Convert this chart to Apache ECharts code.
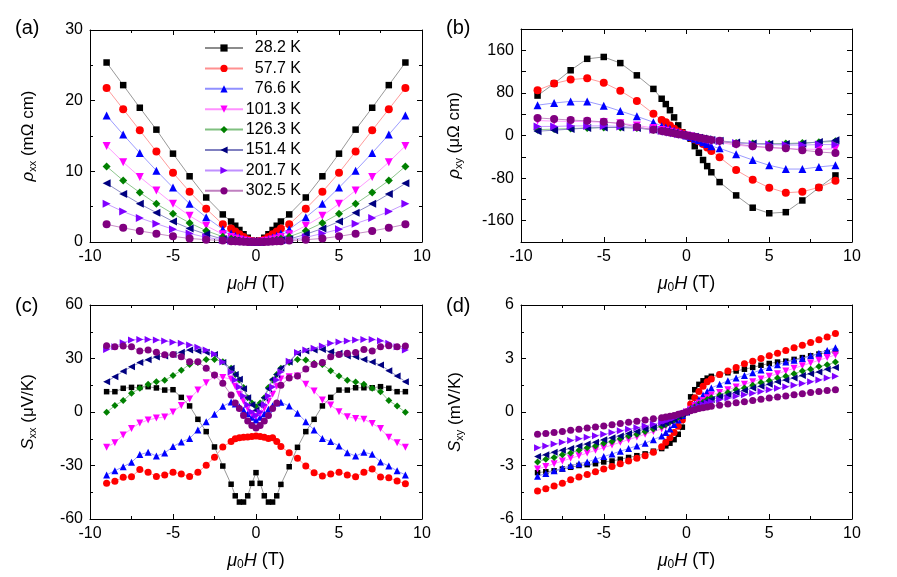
<!DOCTYPE html>
<html>
<head>
<meta charset="utf-8">
<script src="https://cdn.jsdelivr.net/npm/echarts@6/dist/echarts.min.js"></script>
<style>
    html, body { margin: 0; background: #fff; }
    #main { width: 897px; height: 577px; }
</style>
</head>
<body>
<div id="main"></div>
<script type="text/javascript">
    // field values (T) for panels a, b
    var fieldAB = [-9, -8, -7, -6, -5, -4, -3, -2, -1.5, -1.25, -1, -0.75, -0.5, -0.25, 0,
        0.25, 0.5, 0.75, 1, 1.25, 1.5, 2, 3, 4, 5, 6, 7, 8, 9];
    // field values (T) for panels c, d
    var fieldCD = [-9, -8.5, -8, -7.5, -7, -6.5, -6, -5.5, -5, -4.5, -4, -3.5, -3, -2.5, -2, -1.5,
        -1.25, -1, -0.75, -0.5, -0.25, 0, 0.25, 0.5, 0.75, 1, 1.25,
        1.5, 2, 2.5, 3, 3.5, 4, 4.5, 5, 5.5, 6, 6.5, 7, 7.5, 8, 8.5, 9];

    var temps = ['28.2 K', '57.7 K', '76.6 K', '101.3 K', '126.3 K', '151.4 K', '201.7 K', '302.5 K'];

    // (a) rho_xx, mOhm cm
    var rhoXX_282 = [25.4, 22.2, 19.0, 15.9, 12.5, 9.3, 6.3, 3.9, 2.9, 2.3, 1.7, 1.1, 0.6, 0.2, 0.05, 0.2, 0.6, 1.1, 1.7, 2.3, 2.9, 3.9, 6.3, 9.3, 12.5, 15.9, 19.0, 22.2, 25.4];
    var rhoXX_577 = [21.8, 18.8, 15.8, 12.8, 9.8, 7.1, 4.7, 2.5, 1.9, 1.5, 1.1, 0.7, 0.35, 0.1, 0.02, 0.1, 0.35, 0.7, 1.1, 1.5, 1.9, 2.5, 4.7, 7.1, 9.8, 12.8, 15.8, 18.8, 21.8];
    var rhoXX_766 = [17.9, 15.2, 12.6, 10.1, 7.7, 5.4, 3.5, 1.8, 1.2, 0.9, 0.65, 0.4, 0.2, 0.05, 0.01, 0.05, 0.2, 0.4, 0.65, 0.9, 1.2, 1.8, 3.5, 5.4, 7.7, 10.1, 12.6, 15.2, 17.9];
    var rhoXX_1013 = [13.6, 11.3, 9.2, 7.3, 5.4, 3.7, 2.3, 1.1, 0.7, 0.5, 0.35, 0.2, 0.1, 0.03, 0, 0.03, 0.1, 0.2, 0.35, 0.5, 0.7, 1.1, 2.3, 3.7, 5.4, 7.3, 9.2, 11.3, 13.6];
    var rhoXX_1263 = [10.7, 8.7, 7.0, 5.4, 4.0, 2.7, 1.6, 0.75, 0.45, 0.32, 0.22, 0.12, 0.06, 0.02, 0, 0.02, 0.06, 0.12, 0.22, 0.32, 0.45, 0.75, 1.6, 2.7, 4.0, 5.4, 7.0, 8.7, 10.7];
    var rhoXX_1514 = [8.3, 6.8, 5.4, 4.15, 2.9, 1.9, 1.1, 0.4, 0.25, 0.18, 0.12, 0.07, 0.03, 0.01, 0, 0.01, 0.03, 0.07, 0.12, 0.18, 0.25, 0.4, 1.1, 1.9, 2.9, 4.15, 5.4, 6.8, 8.3];
    var rhoXX_2017 = [5.4, 4.3, 3.4, 2.6, 1.8, 1.2, 0.66, 0.3, 0.17, 0.12, 0.08, 0.05, 0.02, 0.01, 0, 0.01, 0.02, 0.05, 0.08, 0.12, 0.17, 0.3, 0.66, 1.2, 1.8, 2.6, 3.4, 4.3, 5.4];
    var rhoXX_3025 = [2.5, 2.0, 1.56, 1.18, 0.8, 0.5, 0.33, 0.2, 0.12, 0.09, 0.06, 0.03, 0.015, 0.005, 0, 0.005, 0.015, 0.03, 0.06, 0.09, 0.12, 0.2, 0.33, 0.5, 0.8, 1.18, 1.56, 2.0, 2.5];

    // (b) rho_xy, uOhm cm
    var rhoXY_282 = [75, 97.5, 122.5, 144, 147.5, 136, 113, 87.5, 69, 59, 47.5, 34, 19, 6, 0, -6, -20, -32.5, -46, -57.5, -69, -87.5, -112.5, -135.6, -146, -144, -122, -98, -75];
    var rhoXY_577 = [85, 97.5, 105, 107.5, 99, 84, 65, 41, 29, 25, 19, 12.5, 7.5, 4, 0, -4, -7.5, -11, -16, -22.5, -29, -41, -65, -83, -98, -107.5, -105.6, -97.5, -85];
    var rhoXY_766 = [57, 61, 64, 64, 56, 46, 36, 25, 17.5, 15, 12.5, 9, 6, 3, 0, -3, -6, -9, -12.5, -16, -20, -24, -35, -46, -56, -63, -63, -59, -56];
    var rhoXY_1013 = [28, 27, 26.5, 26, 25, 23, 19, 14, 10.5, 9, 7, 5, 3.5, 1.5, 0, -1.5, -3.5, -5, -7, -9, -10.5, -13, -18, -21, -23, -24.5, -25.5, -26, -25];
    var rhoXY_1263 = [11, 12, 13, 14, 15, 15, 14, 11, 8.5, 7, 5.5, 4, 2.5, 1.2, 0, -1.2, -2.5, -4, -5.5, -7, -8.5, -11, -14, -15, -15.5, -15, -14, -12.5, -11];
    var rhoXY_1514 = [8, 10, 12, 14, 15, 15, 14, 11, 8.5, 7, 5.5, 4, 2.5, 1.2, 0, -1.2, -2.5, -4, -5.5, -7, -8.5, -10, -13, -15, -16, -16, -15, -12, -9];
    var rhoXY_2017 = [17, 17, 18, 18, 18, 17, 15, 11, 8.5, 7, 5.5, 4, 2.5, 1.2, 0, -1.2, -2.5, -4, -5.5, -7, -8.5, -11, -14, -16, -17, -18, -18, -17, -17];
    var rhoXY_3025 = [33, 31, 29, 27.5, 25.6, 22.5, 16, 11, 8.5, 7, 5.5, 4, 2.5, 1.2, 0, -1.2, -2.5, -4, -5.5, -7, -8.5, -10, -16, -20, -22.5, -24, -27.5, -31, -33];

    // (c) S_xx, uV/K
    var sXX_282 = [11.4, 11.4, 13.3, 13.8, 13.8, 14.2, 13.5, 12.3, 12.5, 8.2, 3.4, -4.1, -11, -19.6, -30.3, -40.5,
        -47, -50.5, -50.5, -47, -40, -34, -40, -47, -50.5, -50.5, -47,
        -40.6, -30.7, -19.8, -11, -4.1, 3.4, 8.2, 12.3, 12.3, 13.6, 13.6, 13.6, 14.2, 13.3, 11.4, 11.4];
    var sXX_577 = [-40, -38.9, -36.6, -36.3, -32.3, -33.8, -36.1, -35.3, -33.8, -34.8, -36.1, -33.8, -29.9, -25.4, -19.6, -16.6,
        -15, -14.5, -14.2, -14, -13.8, -13.4, -13.8, -14.2, -14.8, -14.5, -16.5,
        -19.4, -22.8, -26, -30.3, -34, -35.9, -34.8, -33.8, -35.3, -36.3, -33.8, -32, -36.4, -36.8, -38.7, -40.2];
    var sXX_766 = [-35.3, -32.9, -30.7, -28.2, -23.9, -22.6, -24.7, -23, -19.4, -16.8, -14.8, -10.1, -5.4, -1.3, 3.2, 5.6,
        4.5, 3, 1, -1, -3, -4.5, -3, -1, 1.5, 3.5, 5,
        5.4, 3.4, -0.7, -5.4, -10.1, -14.8, -16.6, -19, -22.8, -24.7, -22.6, -23.7, -28, -30.3, -33, -35.3];
    var sXX_1013 = [-19.8, -17.2, -12.9, -9.3, -6.2, -4.5, -3.4, -2.8, 0, 3.7, 7.3, 12.3, 16.4, 20, 19.4, 18.5,
        14.5, 10, 6, 2, -1, -2.5, -1, 2, 6, 10, 14.5,
        18.5, 19.8, 20.2, 15.5, 11.8, 6.7, 3.9, 0.2, -2.6, -3.6, -4.1, -6.4, -9.3, -14.2, -17.2, -19.8];
    var sXX_1263 = [-0.2, 3.6, 6.4, 10.5, 13.3, 15.5, 17, 17.8, 20.4, 23.4, 26.7, 27.7, 29.5, 29.5, 28.2, 24.5,
        21, 17.9, 13.8, 8, 5, 3, 5, 8, 13.8, 17.9, 21,
        24.5, 27.7, 29.5, 29.2, 27.3, 26.7, 23.2, 20.2, 17.8, 16.8, 15.5, 13.3, 11.4, 6.4, 3.4, -0.2];
    var sXX_1514 = [17, 19.8, 22.8, 25.4, 27.7, 29.3, 30.8, 31.4, 32.3, 33.5, 34.8, 34.2, 33.5, 32.3, 27.7, 24.5,
        21, 18.3, 13, 8, 4, 1, 4, 8, 13, 18.3, 21,
        24.5, 28, 32.9, 34.2, 34.8, 35, 33.8, 32.9, 31.4, 31, 29.5, 28, 26.4, 23.2, 20.2, 17];
    var sXX_2017 = [35.1, 36.6, 38.9, 40.4, 40.7, 40.7, 40.4, 39.8, 39.1, 38.5, 37.6, 36.3, 34.8, 32.5, 28, 22.5,
        18, 14, 9, 4, 0, -2, 0, 4, 9, 14, 18,
        22.5, 28.5, 33.3, 34.8, 35.7, 37, 38.5, 39.2, 39.8, 40.4, 40.7, 40.7, 40, 38.5, 36.6, 34.8];
    var sXX_3025 = [37.2, 36.6, 37, 36.6, 34.2, 34.8, 33.5, 32.1, 32.3, 31, 28.2, 28.2, 24.5, 20.7, 16.1, 9.5,
        5, 2, -2, -5, -7.5, -9, -7.5, -5, -2, 2, 5,
        15, 19, 20.2, 24.1, 26.7, 27.7, 31, 32.3, 32.9, 33.3, 35.1, 34.2, 36.6, 37.2, 36.6, 37];

    // (d) S_xy, mV/K
    var sXY_282 = [-3.4, -3.35, -3.3, -3.2, -3.1, -3.0, -2.95, -2.9, -2.8, -2.75, -2.65, -2.55, -2.45, -2.35, -2.2, -2.05,
        -1.9, -1.75, -1.55, -1.25, -0.85, 0, 0.85, 1.25, 1.55, 1.75, 1.9,
        2.0, 2.1, 2.2, 2.3, 2.4, 2.5, 2.62, 2.72, 2.8, 2.85, 2.95, 3.05, 3.15, 3.25, 3.32, 3.4];
    var sXY_577 = [-4.43, -4.3, -4.15, -4.0, -3.8, -3.65, -3.5, -3.35, -3.2, -3.05, -2.9, -2.75, -2.6, -2.45, -2.25, -1.95,
        -1.7, -1.45, -1.15, -0.8, -0.45, 0, 0.45, 0.8, 1.15, 1.45, 1.7,
        1.85, 2.1, 2.3, 2.5, 2.7, 2.85, 3.0, 3.15, 3.3, 3.45, 3.6, 3.75, 3.9, 4.05, 4.2, 4.4];
    var sXY_766 = [-3.6, -3.45, -3.3, -3.15, -3.0, -2.9, -2.8, -2.65, -2.5, -2.35, -2.2, -2.05, -1.9, -1.75, -1.55, -1.35,
        -1.15, -0.95, -0.7, -0.45, -0.2, 0, 0.2, 0.45, 0.7, 0.95, 1.15,
        1.35, 1.55, 1.75, 1.9, 2.05, 2.2, 2.35, 2.5, 2.65, 2.8, 2.9, 3.0, 3.15, 3.3, 3.45, 3.6];
    var sXY_1013 = [-3.2, -3.05, -2.9, -2.75, -2.6, -2.45, -2.3, -2.15, -2.0, -1.85, -1.7, -1.55, -1.4, -1.25, -1.1, -0.95,
        -0.8, -0.65, -0.5, -0.35, -0.15, 0, 0.15, 0.35, 0.5, 0.65, 0.8,
        0.95, 1.1, 1.25, 1.4, 1.55, 1.7, 1.85, 2.0, 2.15, 2.3, 2.45, 2.6, 2.75, 2.9, 3.05, 3.2];
    var sXY_1263 = [-2.8, -2.65, -2.55, -2.4, -2.3, -2.15, -2.0, -1.9, -1.75, -1.65, -1.5, -1.35, -1.25, -1.1, -0.95, -0.8,
        -0.7, -0.55, -0.45, -0.3, -0.15, 0, 0.15, 0.3, 0.45, 0.55, 0.7,
        0.8, 0.95, 1.1, 1.25, 1.35, 1.5, 1.65, 1.75, 1.9, 2.0, 2.15, 2.3, 2.4, 2.55, 2.65, 2.8];
    var sXY_1514 = [-2.5, -2.4, -2.25, -2.15, -2.05, -1.9, -1.8, -1.7, -1.55, -1.45, -1.35, -1.2, -1.1, -0.95, -0.85, -0.7,
        -0.6, -0.5, -0.4, -0.25, -0.12, 0, 0.12, 0.25, 0.4, 0.5, 0.6,
        0.7, 0.85, 0.95, 1.1, 1.2, 1.35, 1.45, 1.55, 1.7, 1.8, 1.9, 2.05, 2.15, 2.25, 2.4, 2.5];
    var sXY_2017 = [-2.0, -1.9, -1.8, -1.7, -1.6, -1.5, -1.42, -1.33, -1.25, -1.15, -1.05, -0.97, -0.88, -0.78, -0.68, -0.58,
        -0.5, -0.42, -0.33, -0.22, -0.1, 0, 0.1, 0.22, 0.33, 0.42, 0.5,
        0.58, 0.68, 0.78, 0.88, 0.97, 1.05, 1.15, 1.25, 1.33, 1.42, 1.5, 1.6, 1.7, 1.8, 1.9, 2.0];
    var sXY_3025 = [-1.25, -1.2, -1.15, -1.1, -1.03, -0.97, -0.9, -0.84, -0.78, -0.72, -0.65, -0.58, -0.52, -0.45, -0.38, -0.32,
        -0.28, -0.24, -0.19, -0.13, -0.07, 0, 0.07, 0.13, 0.19, 0.24, 0.28,
        0.32, 0.38, 0.45, 0.52, 0.58, 0.65, 0.72, 0.78, 0.84, 0.9, 0.97, 1.03, 1.1, 1.15, 1.2, 1.25];

    var panelData = [
        [rhoXX_282, rhoXX_577, rhoXX_766, rhoXX_1013, rhoXX_1263, rhoXX_1514, rhoXX_2017, rhoXX_3025],
        [rhoXY_282, rhoXY_577, rhoXY_766, rhoXY_1013, rhoXY_1263, rhoXY_1514, rhoXY_2017, rhoXY_3025],
        [sXX_282, sXX_577, sXX_766, sXX_1013, sXX_1263, sXX_1514, sXX_2017, sXX_3025],
        [sXY_282, sXY_577, sXY_766, sXY_1013, sXY_1263, sXY_1514, sXY_2017, sXY_3025]
    ];
    var panelField = [fieldAB, fieldAB, fieldCD, fieldCD];

    var colors = ['#000000', '#ff0000', '#0000ff', '#ff00ff', '#008000', '#000080', '#8000ff', '#800080'];
    var lineColors = ['#8c8c8c', '#ff9090', '#9090ff', '#ff90ff', '#80c080', '#8080c0', '#c090ff', '#c080c0'];
    var symbols = ['rect', 'circle', 'triangle', 'triangle', 'diamond', 'triangle', 'triangle', 'circle'];
    var rotations = [0, 0, 0, 180, 0, 90, -90, 0];

    var font = 'Liberation Sans, Arial, sans-serif';

    var grids = [
        {left: 90, top: 30, width: 332, height: 212},
        {left: 521, top: 29, width: 331, height: 213},
        {left: 90, top: 305, width: 332, height: 214},
        {left: 521, top: 305, width: 331, height: 214}
    ];

    var yNames = [
        '{i|ρ}{s|xx} (mΩ cm)',
        '{i|ρ}{s|xy} (μΩ cm)',
        '{i|S}{s|xx} (μV/K)',
        '{i|S}{s|xy} (mV/K)'
    ];
    var yRange = [
        {min: 0, max: 30, interval: 10, minor: 2},
        {min: -200, max: 200, interval: 40, minor: 0},
        {min: -60, max: 60, interval: 30, minor: 2},
        {min: -6, max: 6, interval: 3, minor: 2}
    ];
    var yGap = [52, 57, 52, 56];

    function axisBase(gridIndex, pos, r, showLabel) {
        var a = {
            type: 'value',
            gridIndex: gridIndex,
            position: pos,
            min: r.min,
            max: r.max,
            interval: r.interval,
            splitLine: {show: false},
            axisLine: {show: true, onZero: false, lineStyle: {color: '#000', width: 1}},
            axisTick: {show: true, inside: true, length: 5, lineStyle: {color: '#000'}},
            minorTick: {show: r.minor > 0, splitNumber: r.minor, length: 3, lineStyle: {color: '#000'}},
            axisLabel: {show: showLabel, color: '#000', fontSize: 16, fontFamily: font, margin: 7}
        };
        return a;
    }

    var xAxes = [], yAxes = [], series = [];
    for (var p = 0; p < 4; p++) {
        var xr = {min: -10, max: 10, interval: 5, minor: 2};
        var xb = axisBase(p, 'bottom', xr, true);
        xb.name = '{i|μ}{s|0}{i|H} (T)';
        xb.nameLocation = 'middle';
        xb.nameGap = 31;
        xb.nameTextStyle = {
            color: '#000', fontSize: 18, fontFamily: font,
            rich: {i: {fontStyle: 'italic', fontSize: 18, fontFamily: font}, s: {fontSize: 12, fontFamily: font, padding: [9, 0, 0, 0]}}
        };
        xAxes.push(xb);
        xAxes.push(axisBase(p, 'top', xr, false));

        var yl = axisBase(p, 'left', yRange[p], true);
        if (p === 1) {
            yl.axisLabel.formatter = function (v) { return v % 80 === 0 ? String(v) : ''; };
        }
        yl.name = yNames[p];
        yl.nameLocation = 'middle';
        yl.nameRotate = 90;
        yl.nameGap = yGap[p];
        yl.nameTextStyle = {
            color: '#000', fontSize: 17, fontFamily: font,
            rich: {i: {fontStyle: 'italic', fontSize: 17, fontFamily: font}, s: {fontSize: 11, fontFamily: font, padding: [9, 0, 0, 0]}}
        };
        yAxes.push(yl);
        yAxes.push(axisBase(p, 'right', yRange[p], false));

        for (var k = 0; k < 8; k++) {
            var pts = [];
            for (var i = 0; i < panelField[p].length; i++) {
                pts.push([panelField[p][i], panelData[p][k][i]]);
            }
            series.push({
                type: 'line',
                name: temps[k],
                xAxisIndex: 2 * p,
                yAxisIndex: 2 * p,
                data: pts,
                symbol: symbols[k],
                symbolRotate: rotations[k],
                symbolSize: p < 2 ? (symbols[k] === 'rect' ? 6.5 : 8) : (symbols[k] === 'rect' ? 5.5 : 7),
                showSymbol: true,
                itemStyle: {color: colors[k]},
                lineStyle: {color: lineColors[k], width: 0.9},
                emphasis: {disabled: true},
                animation: false,
                z: 2 + k
            });
        }
    }

    var myChart = echarts.init(document.getElementById('main'));
    var option = {
        backgroundColor: '#fff',
        animation: false,
        grid: grids,
        xAxis: xAxes,
        yAxis: yAxes,
        legend: {
            data: temps,
            orient: 'vertical',
            left: 199,
            top: 35,
            itemWidth: 38,
            itemHeight: 9,
            itemGap: 4.4,
            selectedMode: false,
            formatter: function (name) { return '{a|' + name + '}'; },
            textStyle: {
                color: '#000', fontSize: 16, fontFamily: font,
                rich: {a: {width: 53, align: 'right', fontSize: 16, fontFamily: font, color: '#000'}}
            }
        },
        graphic: [
            {type: 'text', left: 15, top: 18, style: {text: '(a)', font: '20px Liberation Sans', fill: '#000'}},
            {type: 'text', left: 446, top: 18, style: {text: '(b)', font: '20px Liberation Sans', fill: '#000'}},
            {type: 'text', left: 15, top: 296, style: {text: '(c)', font: '20px Liberation Sans', fill: '#000'}},
            {type: 'text', left: 446, top: 296, style: {text: '(d)', font: '20px Liberation Sans', fill: '#000'}}
        ],
        series: series
    };
    myChart.setOption(option);
</script>
</body>
</html>
